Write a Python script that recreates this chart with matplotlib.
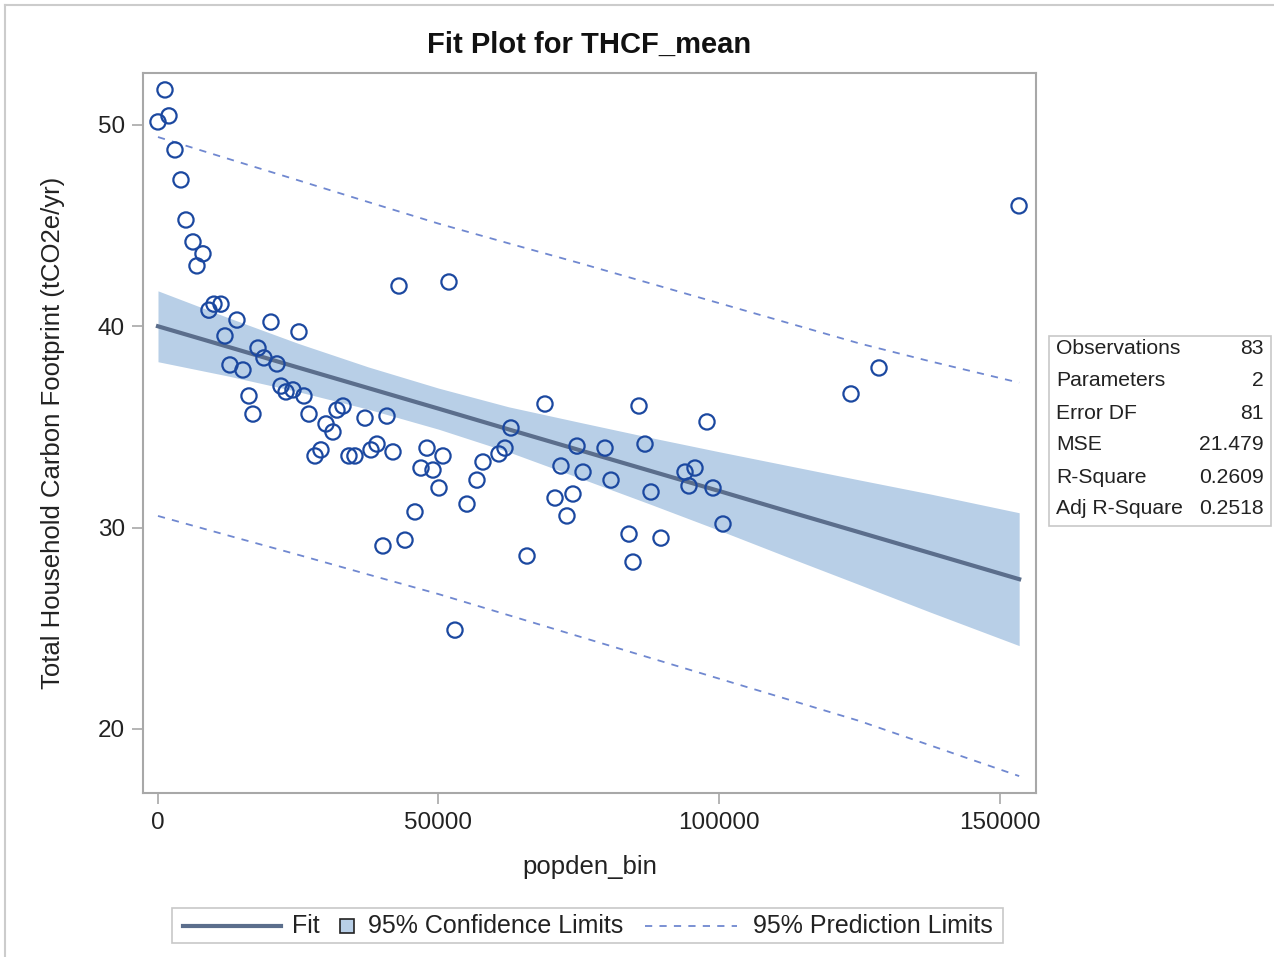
import matplotlib
matplotlib.use("Agg")
import matplotlib.pyplot as plt
from matplotlib.lines import Line2D
from matplotlib.patches import Rectangle

plt.rcParams['font.family'] = ['Liberation Sans', 'DejaVu Sans']

# observations (popden_bin, THCF_mean)
popden = [0, 1250, 1960, 3030, 4100, 4990, 6240, 6950, 8020, 9090,
          9980, 11230, 11940, 12830, 14080, 15150, 16220, 16930, 17830, 18890,
          20140, 21210, 21930, 22820, 24060, 25130, 26020, 26920, 27990, 29050,
          29950, 31190, 31910, 32980, 34040, 35110, 36900, 37970, 39040, 40100,
          40820, 41890, 42960, 44030, 45810, 46880, 47950, 49020, 50090, 50800,
          51870, 52940, 55080, 56860, 57930, 60780, 61850, 62920, 65780, 68980,
          70770, 71830, 72900, 73970, 74690, 75760, 79680, 80750, 83960, 84670,
          85740, 86810, 87880, 89660, 93940, 94650, 95720, 97860, 98930, 100710,
          123530, 128520, 153480]
thcf = [50.15, 51.74, 50.45, 48.76, 47.27, 45.28, 44.19, 43.0, 43.6, 40.8,
        41.1, 41.1, 39.52, 38.08, 40.31, 37.83, 36.54, 35.64, 38.92, 38.43,
        40.21, 38.13, 37.03, 36.74, 36.84, 39.72, 36.54, 35.64, 33.56, 33.86,
        35.15, 34.75, 35.84, 36.04, 33.56, 33.56, 35.44, 33.86, 34.15, 29.09,
        35.54, 33.76, 42.0, 29.38, 30.78, 32.96, 33.95, 32.86, 31.97, 33.56,
        42.2, 24.91, 31.17, 32.36, 33.26, 33.66, 33.95, 34.95, 28.59, 36.14,
        31.47, 33.06, 30.58, 31.67, 34.05, 32.76, 33.95, 32.36, 29.68, 28.29,
        36.04, 34.15, 31.77, 29.48, 32.76, 32.07, 32.96, 35.25, 31.97, 30.18,
        36.64, 37.93, 45.98]

# fit, confidence and prediction limits read at these x positions
grid_x = [0, 12500, 25000, 37500, 50000, 62500, 75000, 87500, 100000, 112500, 125000, 137500, 153500]
fit = [40.0, 38.98, 37.95, 36.93, 35.91, 34.88, 33.86, 32.84, 31.82, 30.79, 29.77, 28.75, 27.44]
ci_hi = [41.76, 40.43, 39.15, 37.98, 36.93, 36.0, 35.24, 34.49, 33.77, 33.07, 32.37, 31.68, 30.74]
ci_lo = [38.24, 37.53, 36.75, 35.88, 34.89, 33.76, 32.48, 31.19, 29.87, 28.51, 27.17, 25.82, 24.14]
pi_hi = [49.4, 48.32, 47.25, 46.17, 45.1, 44.12, 43.15, 42.15, 41.15, 40.15, 39.15, 38.27, 37.2]
pi_lo = [30.58, 29.61, 28.65, 27.67, 26.7, 25.65, 24.6, 23.55, 22.5, 21.45, 20.4, 19.2, 17.66]

stat_names = ["Observations", "Parameters", "Error DF", "MSE", "R-Square", "Adj R-Square"]
stat_values = ["83", "2", "81", "21.479", "0.2609", "0.2518"]

band_col = '#b8cfe7'
fit_col = '#5b6e8c'
pi_col = '#7088d0'
pt_col = '#1b48a0'
frame_col = '#a8a8a8'
text_col = '#222222'

W, H = 1274, 957
fig = plt.figure(figsize=(W / 100, H / 100), dpi=100)
ax = fig.add_axes([143 / W, 1 - 793 / H, 893 / W, 720 / H])

ax.fill_between(grid_x, ci_lo, ci_hi, color=band_col, lw=0, zorder=1)
ax.plot(grid_x, fit, color=fit_col, lw=3, zorder=2)
ax.plot(grid_x, pi_hi, color=pi_col, lw=1.3, ls=(0, (4, 4)), zorder=2)
ax.plot(grid_x, pi_lo, color=pi_col, lw=1.3, ls=(0, (4, 4)), zorder=2)
ax.scatter(popden, thcf, s=120, facecolors='none', edgecolors=pt_col, linewidths=1.6, zorder=3)

ax.set_xlim(-2670, 156500)
ax.set_ylim(16.82, 52.58)
ax.set_xticks([0, 50000, 100000, 150000])
ax.set_yticks([20, 30, 40, 50])
ax.tick_params(labelsize=17.5, color=frame_col, length=8, width=1.2, labelcolor=text_col)
ax.tick_params(axis='x', pad=6)
ax.tick_params(axis='y', pad=5)
for s in ax.spines.values():
    s.set_color(frame_col)
    s.set_linewidth(1.5)

ax.set_xlabel("popden_bin", fontsize=18.5, color=text_col, va='center')
ax.xaxis.set_label_coords(0.5, (793 - 867) / 720)
ax.set_ylabel("Total Household Carbon Footprint (tCO2e/yr)", fontsize=18.5, color=text_col, va='center')
ax.yaxis.set_label_coords((53 - 143) / 893, 0.5)
fig.text(589 / W, 1 - 45 / H, "Fit Plot for THCF_mean", fontsize=21, fontweight='bold',
         ha='center', va='center', color='#111111')

# statistics inset
fig.patches.append(Rectangle((1049 / W, 1 - 526 / H), 222 / W, 190 / H,
                             transform=fig.transFigure, fill=False, ec='#c8c8c8', lw=1.2))
for i, (nm, val) in enumerate(zip(stat_names, stat_values)):
    yy = 1 - (349 + 32 * i) / H
    fig.text(1056 / W, yy, nm, fontsize=15.2, va='center', ha='left', color=text_col)
    fig.text(1264 / W, yy, val, fontsize=15.2, va='center', ha='right', color=text_col)

# legend drawn by hand to match the compact layout
ly = 1 - 926 / H
fig.patches.append(Rectangle((172 / W, 1 - 943 / H), 831 / W, 35 / H,
                             transform=fig.transFigure, fill=False, ec='#c8c8c8', lw=1.2))
fig.add_artist(Line2D([183 / W, 281 / W], [ly, ly], transform=fig.transFigure, color=fit_col, lw=3))
fig.text(292 / W, ly, "Fit", fontsize=18, va='center', ha='left', color=text_col)
fig.patches.append(Rectangle((340 / W, 1 - 933 / H), 14 / W, 14 / H, transform=fig.transFigure,
                             fc=band_col, ec='#222222', lw=1.2))
fig.text(368 / W, ly, "95% Confidence Limits", fontsize=18, va='center', ha='left', color=text_col)
fig.add_artist(Line2D([645 / W, 737 / W], [ly, ly], transform=fig.transFigure, color=pi_col,
                      lw=1.3, ls=(0, (4, 4))))
fig.text(753 / W, ly, "95% Prediction Limits", fontsize=18, va='center', ha='left', color=text_col)

# outer border (top and left)
fig.add_artist(Line2D([5 / W, 1], [1 - 5 / H, 1 - 5 / H], transform=fig.transFigure, color='#cccccc', lw=1.5))
fig.add_artist(Line2D([5 / W, 5 / W], [1 - 5 / H, 0], transform=fig.transFigure, color='#cccccc', lw=1.5))

fig.savefig("out.png", dpi=100)
